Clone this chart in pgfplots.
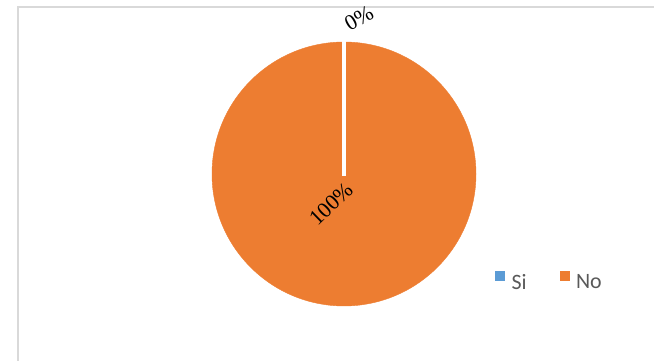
\documentclass[border=0pt]{standalone}
\usepackage{fontspec}
\setmainfont{Liberation Serif}
\newfontfamily\calibri{Carlito}
\newfontfamily\timesfont{Liberation Serif}
\usepackage{pgfplots}
\pgfplotsset{compat=1.18}
\definecolor{siblue}{HTML}{5B9BD5}
\definecolor{noorange}{HTML}{ED7D31}
\definecolor{framegray}{HTML}{D9D9D9}
\definecolor{leggray}{HTML}{595959}
\begin{document}
\begin{tikzpicture}
\begin{axis}[name=ax,
  width=654bp, height=361bp, scale only axis,
  xmin=0, xmax=654, ymin=0, ymax=361,
  hide axis, clip=false, clip marker paths=true,
  legend style={at={(axis cs:492,79)}, anchor=west, draw=none, fill=none,
    legend columns=2, font=\calibri\fontsize{22}{26}\selectfont, text=leggray,
    /tikz/every odd column/.append style={column sep=5bp},
    /tikz/every even column/.append style={column sep=31bp}},
  legend image code/.code={\fill[#1] (0bp,2bp) rectangle (9bp,11bp);},
]
% chart frame
\addplot[framegray, line width=1.3bp, forget plot] coordinates {(18,0) (18,354) (654,354)};
% pie: No = 100 %, Si = 0 %
\addplot[only marks, mark=*, mark size=132bp, color=noorange, forget plot] coordinates {(344,187)};
% slice border of the 0 % slice
\addplot[white, line width=4bp, forget plot] coordinates {(344,185) (344,320)};
\node[rotate=30, font=\timesfont\fontsize{22}{26}\selectfont, text=black] at (axis cs:359,343) {0\%};
\node[rotate=44, font=\timesfont\fontsize{22}{26}\selectfont, text=black] at (axis cs:331,157) {100\%};
\addlegendimage{siblue}
\addlegendentry{Si}
\addlegendimage{noorange}
\addlegendentry{No}
\end{axis}
\pgfresetboundingbox
\path[use as bounding box] (ax.south west) rectangle (ax.north east);
\end{tikzpicture}
\end{document}
